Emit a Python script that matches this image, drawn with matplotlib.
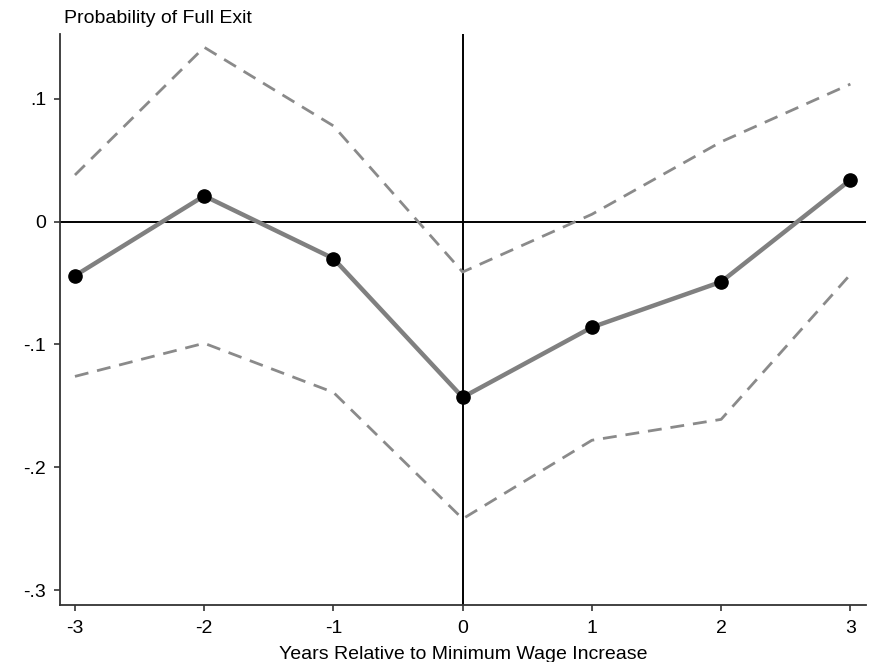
import matplotlib
matplotlib.use("Agg")
import matplotlib.pyplot as plt

plt.rcParams['font.family'] = ['Liberation Sans', 'DejaVu Sans']

years = [-3, -2, -1, 0, 1, 2, 3]
coef = [-0.044, 0.021, -0.030, -0.143, -0.086, -0.049, 0.034]
upper = [0.038, 0.142, 0.078, -0.041, 0.006, 0.065, 0.112]
lower = [-0.126, -0.099, -0.139, -0.242, -0.178, -0.161, -0.043]

ytick_vals = [-0.3, -0.2, -0.1, 0, 0.1]
ytick_labels = ['-.3', '-.2', '-.1', '0', '.1']

fig = plt.figure(figsize=(8.69, 6.62), dpi=100)
ax = fig.add_axes([0.069, 0.086, 0.928, 0.863])

ax.axhline(0, color='black', lw=1.4, zorder=1)
ax.axvline(0, color='black', lw=1.4, zorder=1)

ax.plot(years, upper, color='#8a8a8a', lw=2, dashes=(5, 3.2), zorder=2)
ax.plot(years, lower, color='#8a8a8a', lw=2, dashes=(5, 3.2), zorder=2)
ax.plot(years, coef, color='#808080', lw=3.2, zorder=3)
ax.plot(years, coef, 'o', color='black', ms=9.5, zorder=4)

ax.set_xlim(-3.116, 3.124)
ax.set_ylim(-0.3122, 0.153)
ax.set_xticks(years)
ax.set_xticklabels([str(y) for y in years])
ax.set_yticks(ytick_vals)
ax.set_yticklabels(ytick_labels)

for side in ['top', 'right']:
    ax.spines[side].set_visible(False)
for side in ['left', 'bottom']:
    ax.spines[side].set_color('#333333')
    ax.spines[side].set_linewidth(1.3)

ax.tick_params(direction='out', length=4, width=1.2, color='#333333', labelsize=14)
ax.tick_params(axis='x', pad=7)
ax.tick_params(axis='y', pad=6)
ax.set_xlabel('Years Relative to Minimum Wage Increase', fontsize=14, labelpad=6)
fig.text(0.074, 0.972, 'Probability of Full Exit', fontsize=14, va='center', ha='left')

fig.savefig('out.png', dpi=100)
